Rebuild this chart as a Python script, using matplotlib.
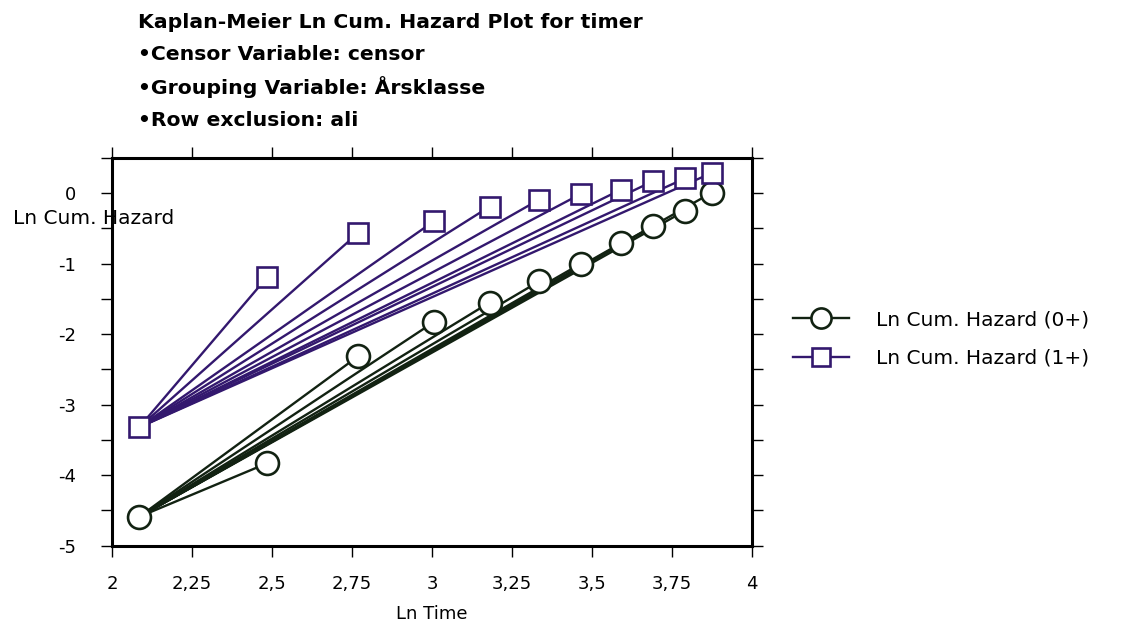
import matplotlib
matplotlib.use("Agg")
import matplotlib.pyplot as plt
from matplotlib.ticker import MultipleLocator, FuncFormatter

plt.rcParams["font.family"] = ["DejaVu Sans"]

# Ln time points (same for both groups)
ln_time = [2.085, 2.485, 2.77, 3.005, 3.18, 3.335, 3.465, 3.59, 3.69, 3.79, 3.875]
# Ln cumulative hazard per group
hazard_0 = [-4.59, -3.83, -2.31, -1.83, -1.55, -1.25, -1.0, -0.71, -0.47, -0.25, 0.01]
hazard_1 = [-3.32, -1.19, -0.56, -0.40, -0.19, -0.09, -0.01, 0.05, 0.17, 0.21, 0.29]

x_ticks = [2, 2.25, 2.5, 2.75, 3, 3.25, 3.5, 3.75, 4]
y_ticks = [0, -1, -2, -3, -4, -5]

title_lines = [
    "Kaplan-Meier Ln Cum. Hazard Plot for timer",
    "•Censor Variable: censor",
    "•Grouping Variable: Årsklasse",
    "•Row exclusion: ali",
]

GREEN = "#122212"
PURPLE = "#33186e"

fig = plt.figure(figsize=(11.30, 6.29), dpi=100)
ax = fig.add_axes([112 / 1130, 1 - 545.7 / 629, 640 / 1130, (545.7 - 158) / 629])


def fan(ax, xs, ys, color, marker, ms, label):
    # every later point is joined back to the first one
    for xi, yi in zip(xs[1:], ys[1:]):
        ax.plot([xs[0], xi], [ys[0], yi], color=color, lw=1.7, zorder=2)
    ax.plot(xs, ys, ls="none", marker=marker, ms=ms, mfc="white", mec=color,
            mew=1.9, zorder=3)
    # legend proxy
    ax.plot([], [], color=color, lw=1.7, marker=marker, ms=ms - 2, mfc="white",
            mec=color, mew=1.9, label=label)


fan(ax, ln_time, hazard_0, GREEN, "o", 16.5, "Ln Cum. Hazard (0+)")
fan(ax, ln_time, hazard_1, PURPLE, "s", 15, "Ln Cum. Hazard (1+)")

ax.set_xlim(2, 4)
ax.set_ylim(-5, 0.5)
ax.set_xticks(x_ticks)
ax.set_yticks(y_ticks)
ax.yaxis.set_minor_locator(MultipleLocator(0.5))
ax.xaxis.set_major_formatter(FuncFormatter(lambda v, p: f"{v:g}".replace(".", ",")))
ax.yaxis.set_major_formatter(FuncFormatter(lambda v, p: f"{v:g}"))

for s in ax.spines.values():
    s.set_linewidth(2.2)
    s.set_color("black")

ax.tick_params(axis="both", which="both", direction="out", length=8, width=1,
               top=True, right=True, labelsize=13)
ax.tick_params(axis="x", pad=13)
ax.tick_params(axis="y", pad=18)

ax.set_xlabel("Ln Time", fontsize=13, labelpad=9)

fig.text(13 / 1130, 1 - 218 / 629, "Ln Cum. Hazard", fontsize=14.5, va="center",
         ha="left")

ys_title = [23, 55, 87, 120]
for line, yy in zip(title_lines, ys_title):
    fig.text(138 / 1130, 1 - yy / 629, line, fontsize=14.7, fontweight="bold",
             va="center", ha="left")

ax.legend(loc="center left", bbox_to_anchor=(793 / 1130, 1 - 339 / 629),
          bbox_transform=fig.transFigure, frameon=False, fontsize=14.5,
          handlelength=2.8, handletextpad=1.3, labelspacing=0.95,
          borderpad=0, borderaxespad=0)

fig.savefig("out.png", dpi=100, facecolor="white")
